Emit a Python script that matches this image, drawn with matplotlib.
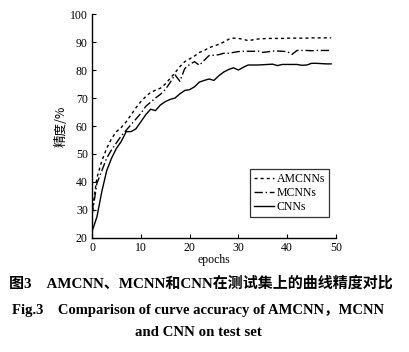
import matplotlib
matplotlib.use("Agg")
import matplotlib.pyplot as plt
import numpy as np

epochs = list(range(50))
amcnn = [29, 41.5, 47.5, 52, 55.5, 58, 59.5, 61.5, 64, 66.5,
         68.7, 70.5, 72, 72.8, 73.5, 75, 77, 79, 81.2, 83,
         84, 85, 86.3, 87, 88, 88.6, 89.2, 90, 91, 91.4,
         91.3, 91, 90.5, 90.8, 91.1, 91.2, 91.3, 91.3, 91.3, 91.3,
         91.4, 91.4, 91.4, 91.4, 91.4, 91.5, 91.5, 91.5, 91.5, 91.5]
mcnn = [28, 39.5, 44, 48.5, 51.5, 54, 56.5, 58.5, 60.5, 62.5,
        64.5, 67, 68.5, 70, 71.3, 73, 75.5, 78.3, 76, 80.5,
        82, 83, 81.7, 83.5, 85.2, 85.3, 85.5, 86, 86, 86.3,
        86.6, 86.7, 86.7, 86.7, 86.8, 86.3, 86.5, 86.8, 86.8, 86.7,
        86.6, 85.6, 87, 87, 87, 86.9, 87, 87, 87, 87]
cnn = [22.3, 27.5, 36.5, 44, 48.5, 52, 54.5, 58, 58, 59,
       61.5, 64, 66, 65.5, 67.5, 68.7, 69.5, 70, 71.5, 72.7,
       73, 74, 75.7, 76.3, 76.8, 76.3, 78, 79.3, 80.2, 80.8,
       80, 81, 81.8, 81.8, 81.8, 81.9, 82, 82.1, 81.6, 82,
       82, 82, 82, 81.7, 81.8, 82.4, 82.4, 82.3, 82.2, 82.2]
labels = ["AMCNNs", "MCNNs", "CNNs"]
xticks = [0, 10, 20, 30, 40, 50]
yticks = [20, 30, 40, 50, 60, 70, 80, 90, 100]

serif = ["Liberation Serif", "Noto Sans CJK SC", "DejaVu Sans"]
cjk = ["Noto Sans CJK SC", "Liberation Serif", "DejaVu Sans"]
plt.rcParams['font.family'] = serif

fig = plt.figure(figsize=(4.09, 3.52), dpi=100)
ax = fig.add_axes([0.225, 0.324, 0.5965, 0.636])
ax.plot(epochs, amcnn, color='black', lw=1.0, linestyle=(0, (2.2, 2.2)), label=labels[0])
ax.plot(epochs, mcnn, color='black', lw=1.0, linestyle=(0, (6, 2, 1, 2)), label=labels[1])
ax.plot(epochs, cnn, color='black', lw=1.0, linestyle='-', label=labels[2])

ax.set_xlim(0, 50)
ax.set_ylim(20, 100)
ax.set_xticks(xticks)
ax.set_yticks(yticks)
ax.spines['top'].set_visible(False)
ax.spines['right'].set_visible(False)
for s in ['left', 'bottom']:
    ax.spines[s].set_linewidth(1.0)
ax.tick_params(direction='in', length=3, width=0.8, labelsize=8.5, pad=3)
ax.set_xlabel("epochs", fontsize=8.5, labelpad=0)
ax.set_ylabel("精度/%", fontsize=9, family=cjk, labelpad=2)

leg = ax.legend(loc='lower right', bbox_to_anchor=(0.972, 0.094), borderaxespad=0,
                fontsize=8.5, handlelength=1.7, handletextpad=0.2, labelspacing=0.15,
                frameon=True, fancybox=False, edgecolor='black', borderpad=0.35)
leg.get_frame().set_linewidth(0.9)

fig.text(0.49, 0.196, "图3　AMCNN、MCNN和CNN在测试集上的曲线精度对比", ha='center', va='center',
         fontsize=10.8, fontweight='bold', family=serif)
fig.text(0.483, 0.119, "Fig.3    Comparison of curve accuracy of AMCNN，MCNN", ha='center', va='center',
         fontsize=10.5, fontweight='bold', family=serif)
fig.text(0.485, 0.054, "and CNN on test set", ha='center', va='center',
         fontsize=10.7, fontweight='bold', family=serif)

fig.savefig("out.png", dpi=100)
